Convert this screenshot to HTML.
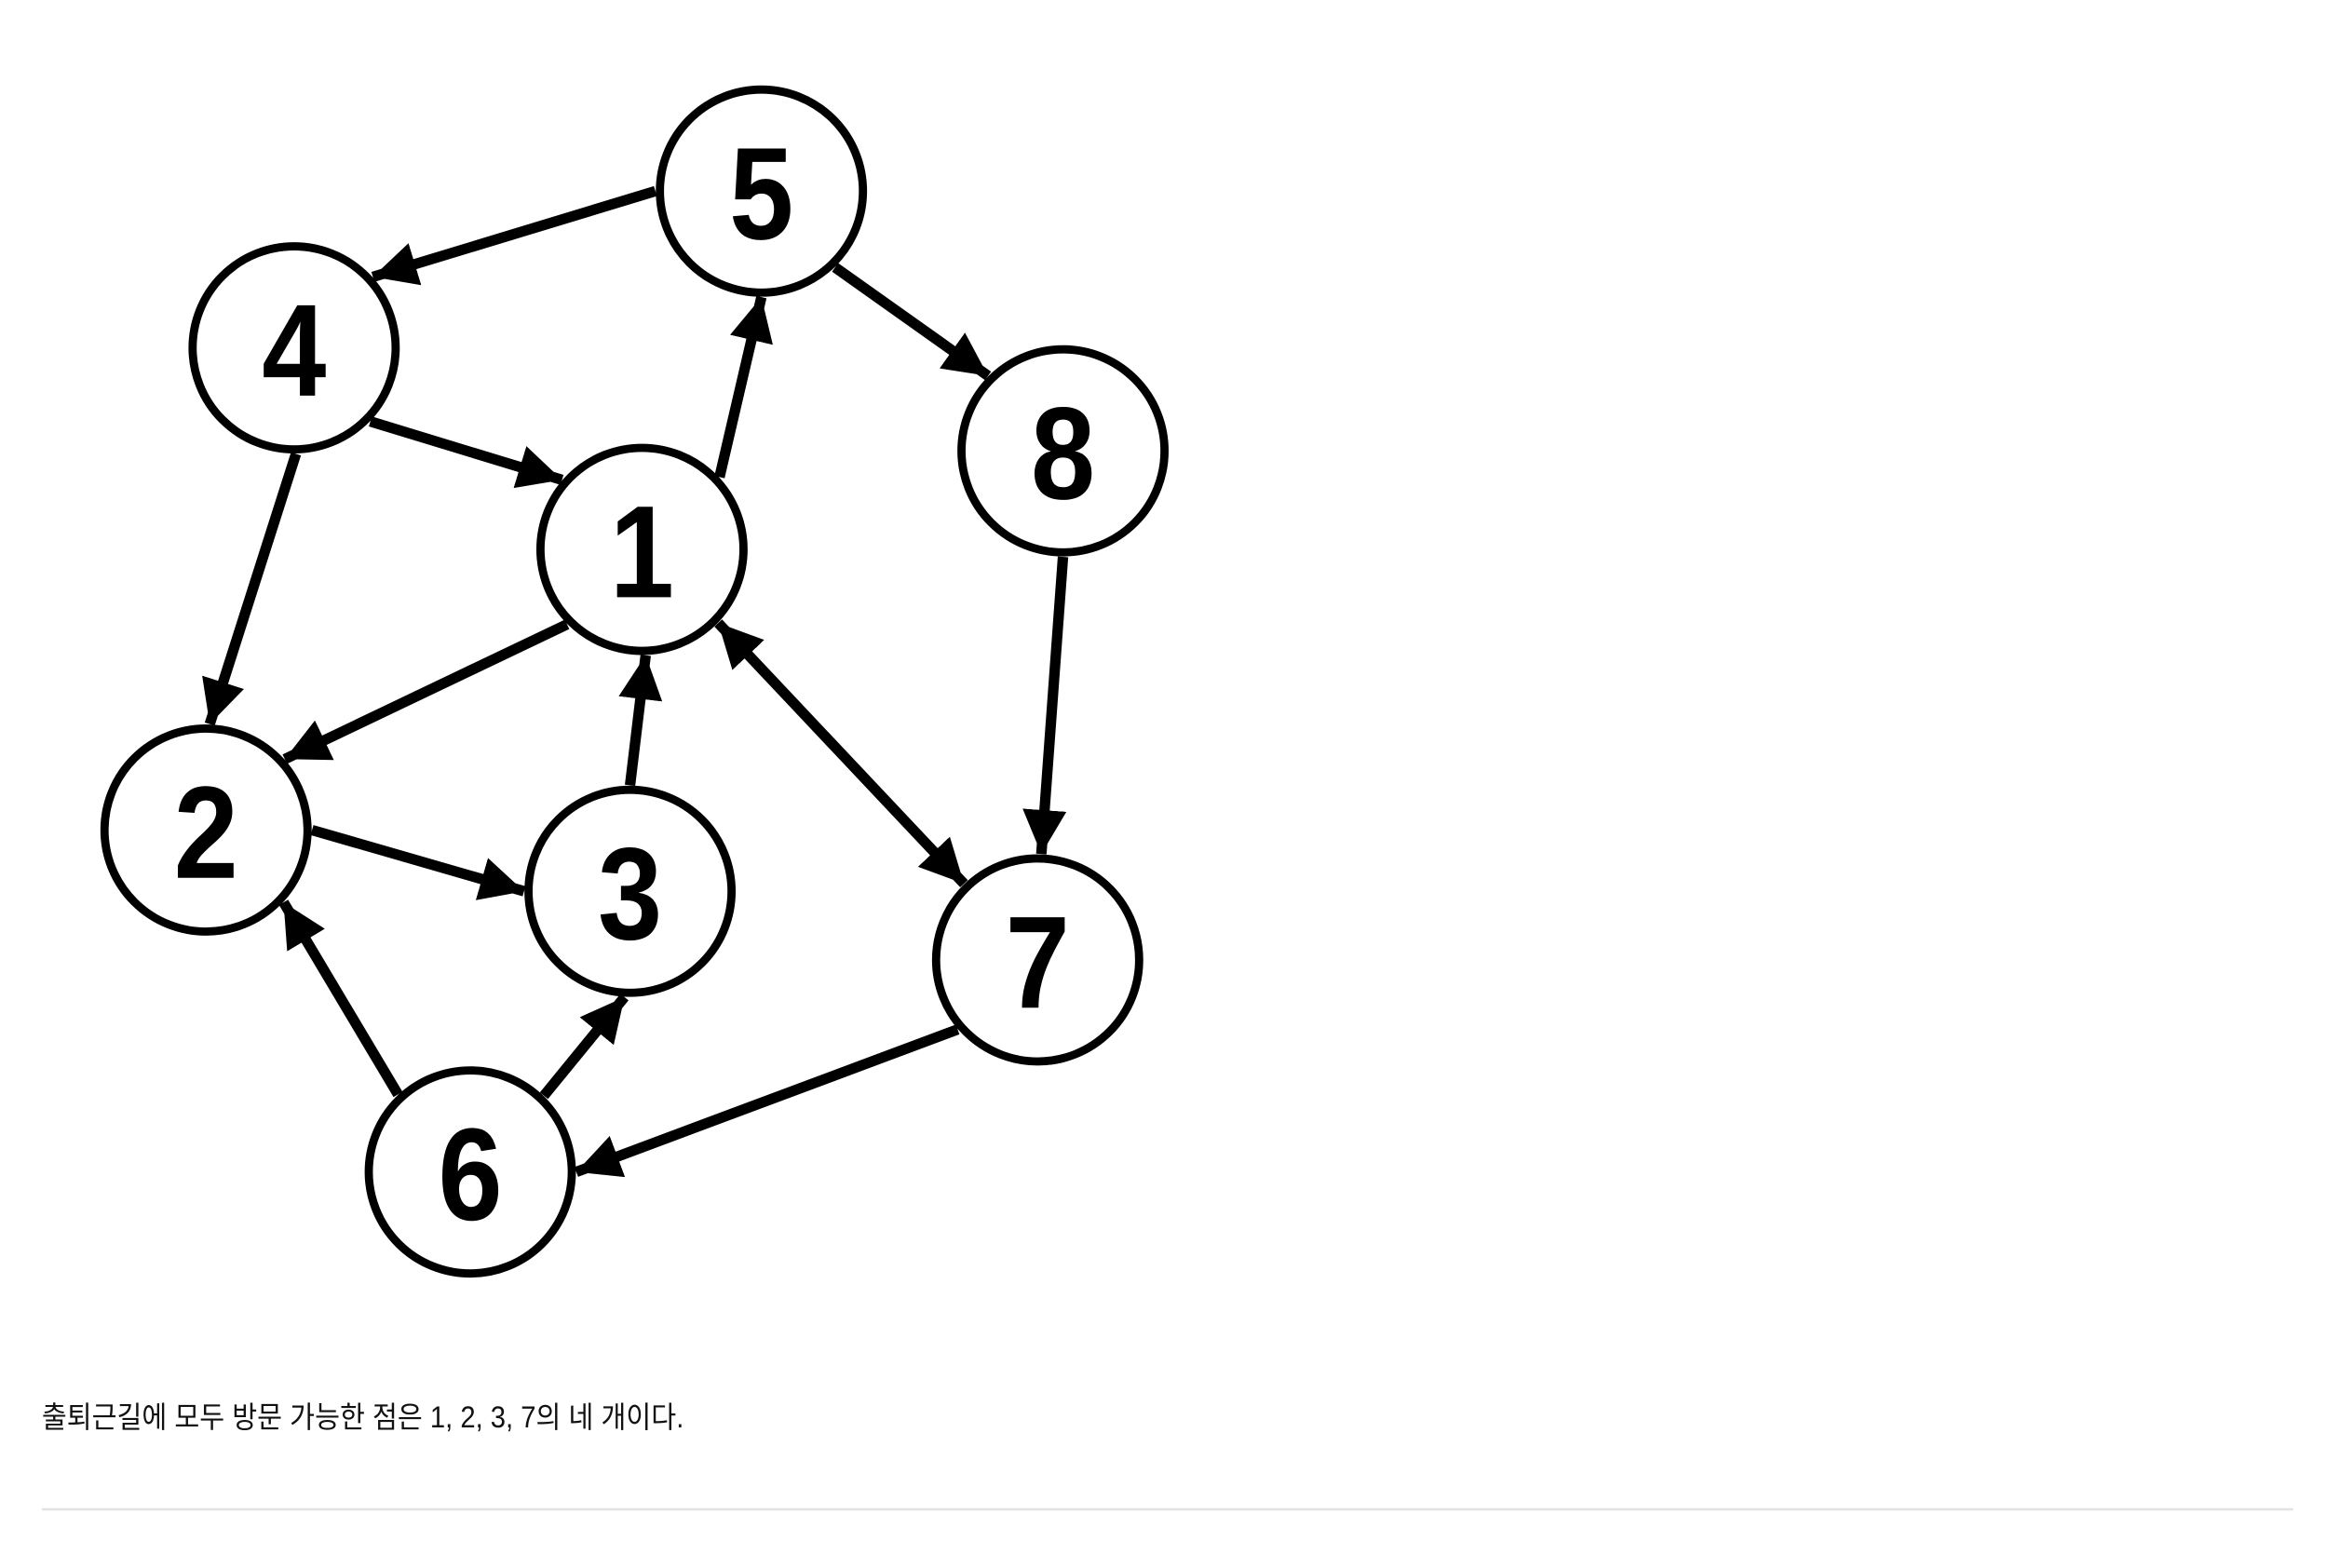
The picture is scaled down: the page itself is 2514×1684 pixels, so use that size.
<!DOCTYPE html>
<html><head><meta charset="utf-8"><style>
html,body{margin:0;padding:0;background:#fff;}
svg{display:block;}
</style></head><body>
<svg id="chart" width="2514" height="1684" viewBox="0 0 1568 1050.3" preserveAspectRatio="none" xmlns="http://www.w3.org/2000/svg">
<defs>
<marker id="arr" viewBox="0 0 10 10" refX="10" refY="5" markerWidth="4.2" markerHeight="4.2" markerUnits="strokeWidth" orient="auto-start-reverse">
<path d="M0,0 L10,5 L0,10 z" fill="#000"/>
</marker>
</defs>
<g id="edges"></g>
<g id="nodes"></g>
<text x="28" y="956" textLength="430" lengthAdjust="spacingAndGlyphs" font-family="'Liberation Sans','Noto Sans CJK KR',sans-serif" font-size="20" fill="#111">출퇴근길에 모두 방문 가능한 점은 1, 2, 3, 7의 네 개이다.</text>
<line x1="28" y1="1011" x2="1536" y2="1011" stroke="#e3e3e3" stroke-width="1.5"/>
</svg>
<script>
const nodeLabels=["1","2","3","4","5","6","7","8"];
const nodeX=[430,138,422,197,510,315,695,712];
const nodeY=[368,556,597,233,128,785,643,302];
const edgeFrom=["5","5","4","4","1","1","3","1","8","2","6","6","7"];
const edgeTo=["4","8","1","2","5","2","1","7","7","3","2","3","6"];
const edgeBoth=[false,false,false,false,false,false,false,true,false,false,false,false,false];
const startAng=[180,46,44,89,-43,135,-90,44,90,0,-133,-46,139];
const endAng=[-42,-135,-139,-88,90,-42,88,-134,-88,180,43,93,0];
const R=68;
const NS="http://www.w3.org/2000/svg";
const eg=document.getElementById('edges'), ng=document.getElementById('nodes');
function pos(l){const i=nodeLabels.indexOf(l);return [nodeX[i],nodeY[i]];}
for(let k=0;k<edgeFrom.length;k++){
  const [cx1,cy1]=pos(edgeFrom[k]),[cx2,cy2]=pos(edgeTo[k]);
  const a1=startAng[k]*Math.PI/180,a2=endAng[k]*Math.PI/180;
  const ln=document.createElementNS(NS,'line');
  
  
  ln.setAttribute('x1',cx1+Math.cos(a1)*(R+3));ln.setAttribute('y1',cy1+Math.sin(a1)*(R+3));
  ln.setAttribute('x2',cx2+Math.cos(a2)*(R+3));ln.setAttribute('y2',cy2+Math.sin(a2)*(R+3));
  ln.setAttribute('stroke','#000');ln.setAttribute('stroke-width','7');
  ln.setAttribute('marker-end','url(#arr)');
  if(edgeBoth[k])ln.setAttribute('marker-start','url(#arr)');
  eg.appendChild(ln);
}
for(let i=0;i<nodeLabels.length;i++){
  const g=document.createElementNS(NS,'g');
  
  
  const c=document.createElementNS(NS,'circle');
  c.setAttribute('cx',nodeX[i]);c.setAttribute('cy',nodeY[i]);c.setAttribute('r',R);
  c.setAttribute('fill','#fff');c.setAttribute('stroke','#000');c.setAttribute('stroke-width','5.5');
  g.appendChild(c);
  const t=document.createElementNS(NS,'text');
  t.setAttribute('x',nodeX[i]);t.setAttribute('y',nodeY[i]+32);
  t.setAttribute('text-anchor','middle');
  t.setAttribute('font-family',"'Liberation Sans',sans-serif");
  t.setAttribute('font-weight','bold');t.setAttribute('font-size','88');
  t.setAttribute('transform','translate('+nodeX[i]+' 0) scale(0.88 1) translate('+(-nodeX[i])+' 0)');
  t.textContent=nodeLabels[i];
  g.appendChild(t);
  ng.appendChild(g);
}
</script>
</body></html>
